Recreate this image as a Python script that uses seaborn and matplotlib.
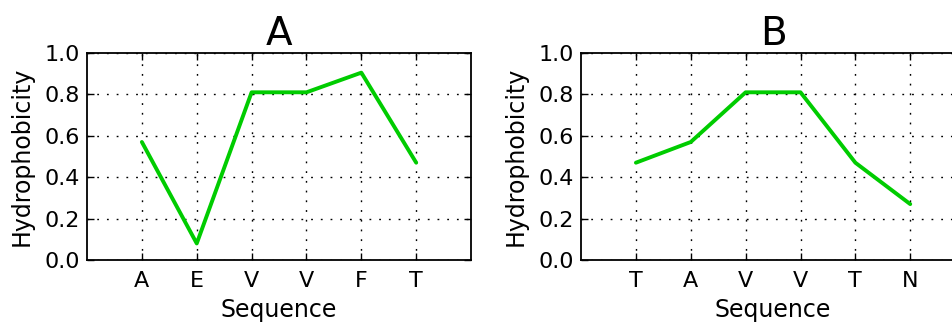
import matplotlib
matplotlib.use("Agg")
import matplotlib.pyplot as plt
import seaborn as sns
import pandas as pd

# Residue sequences and their normalized hydrophobicity values
seq_a = ["A", "E", "V", "V", "F", "T"]
hyd_a = [0.57, 0.08, 0.81, 0.81, 0.905, 0.47]

seq_b = ["T", "A", "V", "V", "T", "N"]
hyd_b = [0.47, 0.57, 0.81, 0.81, 0.47, 0.27]

titles = ["A", "B"]
line_color = "#00cc00"

sns.set_style("white")
plt.rcParams["font.family"] = ["DejaVu Sans"]
plt.rcParams["text.color"] = "black"
plt.rcParams["axes.labelcolor"] = "black"

fig = plt.figure(figsize=(9.53, 3.22), dpi=100)
ax_a = fig.add_axes([0.0913, 0.1925, 0.403, 0.643])
ax_b = fig.add_axes([0.6097, 0.1925, 0.403, 0.643])

for ax, seq, hyd, title in [(ax_a, seq_a, hyd_a, titles[0]),
                            (ax_b, seq_b, hyd_b, titles[1])]:
    pos = list(range(1, len(seq) + 1))
    df = pd.DataFrame({"pos": pos, "hyd": hyd})
    sns.lineplot(data=df, x="pos", y="hyd", ax=ax, color=line_color,
                 linewidth=2.8, sort=False)
    ax.set_xlim(0, len(seq) + 1)
    ax.set_ylim(0, 1.0)
    ax.set_xticks(pos)
    ax.set_xticklabels(seq)
    ax.set_yticks([0.0, 0.2, 0.4, 0.6, 0.8, 1.0])
    ax.set_yticklabels(["0.0", "0.2", "0.4", "0.6", "0.8", "1.0"])
    ax.grid(True, color="black", linestyle=(0, (1.3, 5.7)), linewidth=1.0)
    ax.set_axisbelow(True)
    for s in ax.spines.values():
        s.set_visible(True)
        s.set_color("black")
        s.set_linewidth(1.3)
    ax.tick_params(direction="in", length=5, width=1, colors="black",
                   labelsize=16, top=True, right=True, bottom=True, left=True)
    ax.tick_params(axis="x", pad=8)
    ax.tick_params(axis="y", pad=5)
    ax.set_xlabel("Sequence", fontsize=17, labelpad=5)
    ax.set_ylabel("Hydrophobicity", fontsize=17, labelpad=8)
    ax.set_title(title, fontsize=28, pad=6)

fig.savefig("out.png", dpi=100, facecolor="white")
